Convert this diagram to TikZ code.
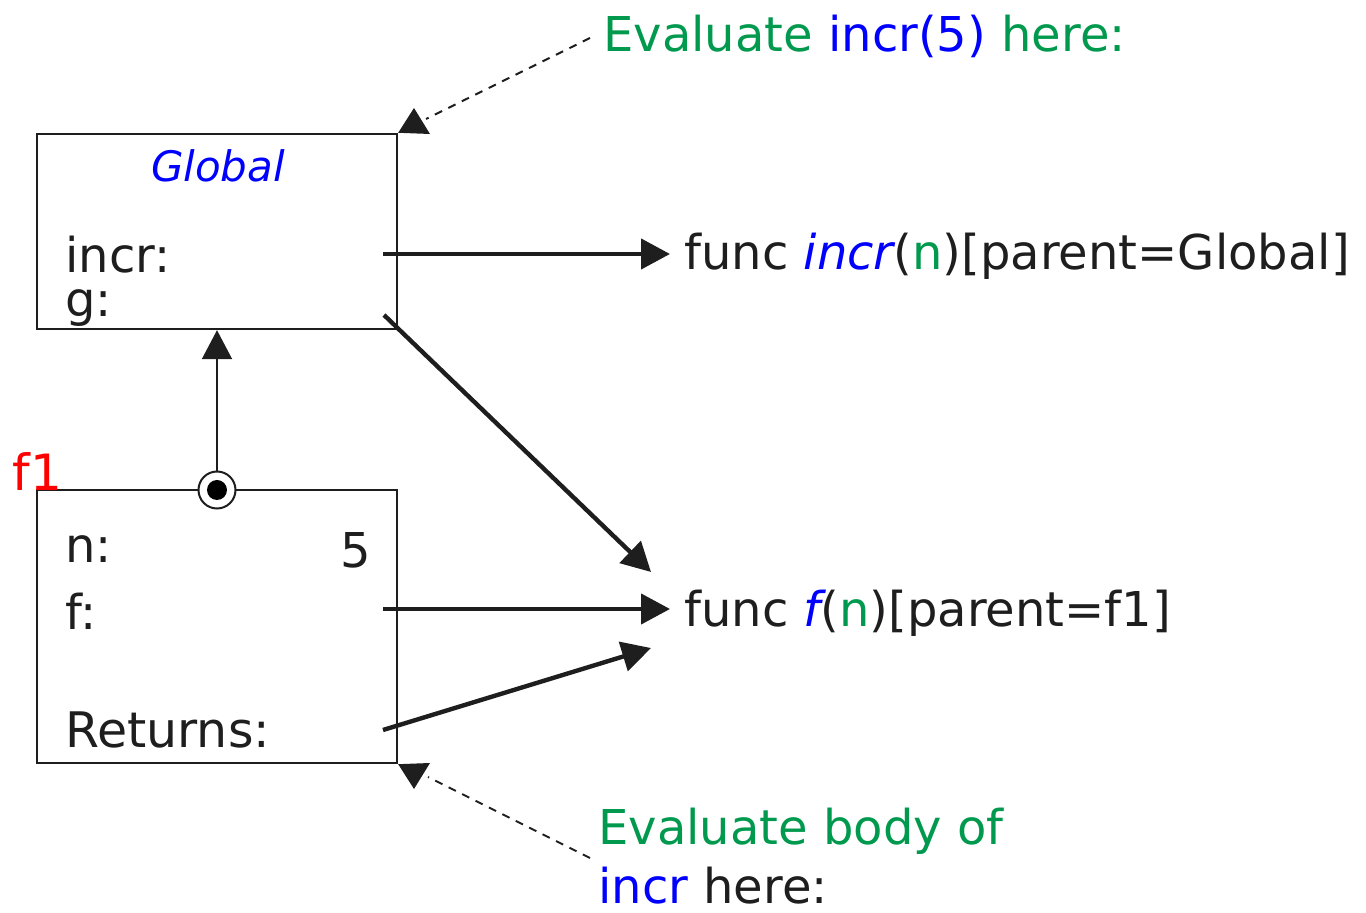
\documentclass[tikz,border=0pt]{standalone}
\usepackage{fontspec}
\setmainfont{DejaVu Sans}
\usetikzlibrary{arrows.meta}
\definecolor{evgreen}{RGB}{0,153,77}
\definecolor{evblue}{RGB}{0,0,255}
\definecolor{evred}{RGB}{255,0,0}
\definecolor{ink}{RGB}{30,30,30}
\tikzset{
  frame/.style={draw=ink, line width=1.2pt, inner sep=0pt, rectangle},
  txt/.style={inner sep=0pt, anchor=base west, text=ink, font=\fontsize{24pt}{31pt}\selectfont},
  ptr/.style={draw=ink, line width=2.2pt, -{Triangle[length=14.5pt,width=15pt]}},
  parentarrow/.style={draw=ink, line width=1pt, -{Triangle[length=14.5pt,width=15pt]}},
  dashline/.style={draw=ink, line width=1pt, dash pattern=on 4pt off 3.5pt},
  tiphead/.style={fill=ink},
}
\begin{document}
\begin{tikzpicture}[x=0.5pt,y=-0.5pt]
\useasboundingbox (0,0) rectangle (1366,913);
% frames
\node[frame, minimum width=180pt, minimum height=97.5pt] (global) at (217,231.5) {};
\node[frame, minimum width=180pt, minimum height=136.5pt] (fone) at (217,626.5) {};
% global frame contents
\node[txt, anchor=base, text=evblue, font=\fontsize{21pt}{26pt}\selectfont\itshape] (gtitle) at (218,182) {Global};
\node[txt] (lincr) at (65,273) {incr:};
\node[txt] (lg) at (65,317) {g:};
% f1 frame contents
\node[txt, text=evred, font=\fontsize{25pt}{31pt}\selectfont] (fonelabel) at (12,491) {f1};
\node[txt] (ln) at (65,563) {n:};
\node[txt, anchor=base east] (vfive) at (371,568) {5};
\node[txt] (lf) at (65,630) {f:};
\node[txt, font=\fontsize{24.5pt}{31pt}\selectfont] (lret) at (65,748) {Returns:};
% function values
\node[txt] (fincr) at (684,270) {func \textcolor{evblue}{\itshape incr}(\textcolor{evgreen}{n})[parent=Global]};
\node[txt] (ff) at (684,627) {func \textcolor{evblue}{\itshape f}(\textcolor{evgreen}{n})[parent=f1]};
% annotations
\node[txt, text=evgreen] (evtop) at (603,52) {Evaluate \textcolor{evblue}{incr(5)} here:};
\node[txt, text=evgreen] (evbotA) at (598,845) {Evaluate body of};
\node[txt] (evbotB) at (598,904) {\textcolor{evblue}{incr} here:};
% pointer start and end points
\coordinate (pincr) at (383,254);
\coordinate (pg) at (384,315);
\coordinate (pf) at (383,609);
\coordinate (pret) at (383,730);
\coordinate (tincr) at (670,254);
\coordinate (tg) at (651,572);
\coordinate (tf) at (670,609);
\coordinate (tret) at (651,648);
\draw[ptr] (pincr) -- (tincr);
\draw[ptr] (pg) -- (tg);
\draw[ptr] (pf) -- (tf);
\draw[ptr] (pret) -- (tret);
% parent link
\draw[parentarrow] (217,472) -- (global.south);
\node[circle, draw=ink, fill=white, line width=1pt, minimum size=18.5pt, inner sep=0pt] (pdot) at (217,490) {};
\node[circle, fill=black, minimum size=10pt, inner sep=0pt] (pdotin) at (pdot.center) {};
% dashed annotation links with their heads
\coordinate (evtopstart) at (590,38);
\coordinate (headtop) at (426,119);
\fill[tiphead] (global.north east) -- (430,134) -- (414,108) -- cycle;
\draw[dashline] (evtopstart) -- (headtop);
\coordinate (evbotstart) at (590,858);
\coordinate (headbot) at (428,777);
\fill[tiphead] (fone.south east) -- (430,763) -- (414,789) -- cycle;
\draw[dashline] (evbotstart) -- (headbot);
\end{tikzpicture}
\end{document}
